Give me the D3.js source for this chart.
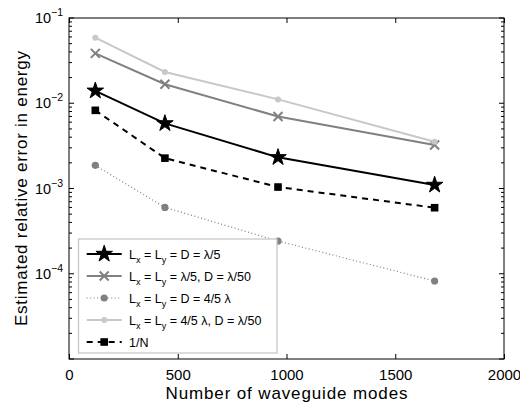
<!DOCTYPE html>
<html><head><meta charset="utf-8">
<script src="https://cdn.jsdelivr.net/npm/d3@7"></script>
<style>body{margin:0;background:#fff}svg{display:block;font-family:"Liberation Sans",Arial,sans-serif}</style>
</head><body>
<svg id="c" width="520" height="406"></svg>
<script>
const modes = [121, 441, 961, 1681];
const errStar = [0.0140, 0.0058, 0.00232, 0.0011];
const errCross = [0.0385, 0.0167, 0.0070, 0.00324];
const errDot = [0.00187, 0.00060, 0.000242, 0.0000822];
const errLight = [0.0587, 0.0233, 0.0111, 0.00354];
const errInvN = [0.00826, 0.00227, 0.00104, 0.000595];
const xTicks = [0, 500, 1000, 1500, 2000];
const yTicks = [1e-1, 1e-2, 1e-3, 1e-4];
const yTickExp = ["\u22121", "\u22122", "\u22123", "\u22124"];
const legendLabels = [
  "L_x = L_y = D = \u03bb/5",
  "L_x = L_y = \u03bb/5, D = \u03bb/50",
  "L_x = L_y = D = 4/5 \u03bb",
  "L_x = L_y = 4/5 \u03bb, D = \u03bb/50",
  "1/N"
];
const xLabel = "Number of waveguide modes";
const yLabel = "Estimated relative error in energy";

const svg = d3.select("#c");
const L = 69, R = 504, T = 18, B = 359;
const x = d3.scaleLinear().domain([0, 2000]).range([L, R]);
const y = d3.scaleLog().domain([1e-5, 1e-1]).range([B, T]);

const series = [
  {vals: errStar, color: "#000", width: 2, dash: null, marker: "star"},
  {vals: errCross, color: "#808080", width: 2, dash: null, marker: "cross"},
  {vals: errDot, color: "#808080", width: 1.2, dash: "1,2.5", marker: "circle"},
  {vals: errLight, color: "#c8c8c8", width: 2, dash: null, marker: "smallcircle"},
  {vals: errInvN, color: "#000", width: 2, dash: "6,5", marker: "square"}
];

function drawMarker(g, kind, color) {
  if (kind === "star") {
    g.append("path").attr("d", d3.symbol().type(d3.symbolStar).size(85)())
      .attr("fill", color).attr("stroke", color).attr("stroke-width", 1);
  } else if (kind === "cross") {
    g.append("path").attr("d", "M-4.5,-4.5L4.5,4.5M-4.5,4.5L4.5,-4.5")
      .attr("stroke", color).attr("stroke-width", 2).attr("fill", "none");
  } else if (kind === "circle") {
    g.append("circle").attr("r", 3.6).attr("fill", color);
  } else if (kind === "smallcircle") {
    g.append("circle").attr("r", 3).attr("fill", color);
  } else if (kind === "square") {
    g.append("rect").attr("x", -3.8).attr("y", -3.8).attr("width", 7.6).attr("height", 7.6).attr("fill", color);
  }
}

const gx = svg.append("g").attr("transform", `translate(0,${B})`)
  .call(d3.axisBottom(x).tickValues(xTicks).tickSizeInner(-5).tickSizeOuter(0).tickPadding(10).tickFormat(d3.format("d")));
const gxt = svg.append("g").attr("transform", `translate(0,${T})`)
  .call(d3.axisTop(x).tickValues(xTicks).tickSizeInner(-5).tickSizeOuter(0).tickFormat(""));
[gx, gxt].forEach(g => { g.select(".domain").remove(); g.selectAll("line").attr("stroke", "#000"); });
gx.selectAll("text").attr("font-size", 15).attr("fill", "#000").attr("font-family", "Liberation Sans, Arial, sans-serif");

const minor = [];
[1e-5, 1e-4, 1e-3, 1e-2].forEach(d => { for (let k = 2; k <= 9; k++) minor.push(d * k); });
const major = [1e-5, 1e-4, 1e-3, 1e-2, 1e-1];
const gy = svg.append("g");
[[L, 1], [R, -1]].forEach(([x0, s]) => {
  gy.selectAll(null).data(minor).enter().append("line")
    .attr("x1", x0).attr("x2", x0 + s * 3).attr("y1", d => y(d)).attr("y2", d => y(d))
    .attr("stroke", "#000").attr("stroke-width", 1);
  gy.selectAll(null).data(major).enter().append("line")
    .attr("x1", x0).attr("x2", x0 + s * 5).attr("y1", d => y(d)).attr("y2", d => y(d))
    .attr("stroke", "#000").attr("stroke-width", 1);
});
yTicks.forEach((d, i) => {
  const t = svg.append("text").attr("x", 63).attr("y", y(d) + 5)
    .attr("text-anchor", "end").attr("font-size", 14.5).attr("fill", "#000");
  t.append("tspan").text("10");
  t.append("tspan").attr("dy", -7).attr("font-size", 10.5).text(yTickExp[i]);
});

svg.append("rect").attr("x", L).attr("y", T).attr("width", R - L).attr("height", B - T)
  .attr("fill", "none").attr("stroke", "#000").attr("stroke-width", 1);

const line = d3.line().x((d, i) => x(modes[i])).y(d => y(d));
series.forEach(s => {
  svg.append("path").datum(s.vals).attr("d", line).attr("fill", "none")
    .attr("stroke", s.color).attr("stroke-width", s.width)
    .attr("stroke-dasharray", s.dash);
  s.vals.forEach((v, i) => {
    drawMarker(svg.append("g").attr("transform", `translate(${x(modes[i])},${y(v)})`), s.marker, s.color);
  });
});

const lg = svg.append("g");
lg.append("rect").attr("x", 78.5).attr("y", 239).attr("width", 198.5).attr("height", 114)
  .attr("fill", "#fff").attr("stroke", "#c8c8c8").attr("stroke-width", 1.3);
series.forEach((s, i) => {
  const ry = 254 + i * 22;
  lg.append("line").attr("x1", 86.7).attr("x2", 121.7).attr("y1", ry).attr("y2", ry)
    .attr("stroke", s.color).attr("stroke-width", s.width).attr("stroke-dasharray", s.dash);
  drawMarker(lg.append("g").attr("transform", `translate(104.2,${ry})`), s.marker, s.color);
  const t = lg.append("text").attr("x", 129).attr("y", ry + 4.5).attr("font-size", 12.5).attr("fill", "#000");
  const parts = legendLabels[i].split(/_(\w)/);
  parts.forEach((p, j) => {
    if (j % 2 === 1) {
      t.append("tspan").attr("dy", 4).attr("font-size", 9).text(p);
    } else if (p.length) {
      t.append("tspan").attr("dy", j > 0 ? -4 : 0).text(p);
    }
  });
});

svg.append("text").attr("x", (L + R) / 2).attr("y", 398.5).attr("text-anchor", "middle")
  .attr("font-size", 17).attr("textLength", 242).attr("lengthAdjust", "spacing")
  .attr("fill", "#000").text(xLabel);
svg.append("text").attr("transform", `translate(27,${(T + B) / 2}) rotate(-90)`)
  .attr("text-anchor", "middle").attr("font-size", 17).attr("textLength", 275).attr("lengthAdjust", "spacing")
  .attr("fill", "#000").text(yLabel);
</script>
</body></html>
